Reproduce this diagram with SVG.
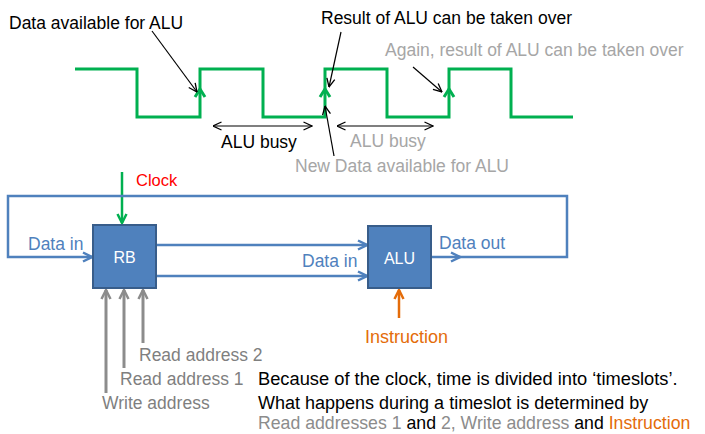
<svg xmlns="http://www.w3.org/2000/svg" width="705" height="434" viewBox="0 0 705 434">
<defs>
<style>
text{font-family:"Liberation Sans",Arial,sans-serif;font-size:17.5px}
.blk{fill:#000}
.lg{fill:#a6a6a6}
.dg{fill:#7f7f7f}
.blue{fill:#4f81bd}
.wht{fill:#fff;font-size:16px}
.box{fill:#4f81bd;stroke:#385d8a;stroke-width:2}
.wave{fill:none;stroke:#00b050;stroke-width:3}
.ann{fill:none;stroke:#000;stroke-width:1.2}
.bl{fill:none;stroke:#4f81bd;stroke-width:2.5}
.gr{fill:none;stroke:#8c8c8c;stroke-width:3}
</style>
<marker id="mk" viewBox="0 0 10 10" refX="9.5" refY="5" markerWidth="10" markerHeight="10" markerUnits="userSpaceOnUse" orient="auto-start-reverse"><path d="M1,1 L9.5,5 L1,9" fill="none" stroke="#000" stroke-width="1.3"/></marker>
<marker id="mb" viewBox="0 0 12 12" refX="11" refY="6" markerWidth="12" markerHeight="12" markerUnits="userSpaceOnUse" orient="auto"><path d="M2,1.5 L11,6 L2,10.5" fill="none" stroke="#4f81bd" stroke-width="2.5"/></marker>
<marker id="mg" viewBox="0 0 12 12" refX="11" refY="6" markerWidth="12" markerHeight="12" markerUnits="userSpaceOnUse" orient="auto"><path d="M2,1.5 L11,6 L2,10.5" fill="none" stroke="#00b050" stroke-width="2.5"/></marker>
<marker id="mgr" viewBox="0 0 12 12" refX="11" refY="6" markerWidth="12" markerHeight="12" markerUnits="userSpaceOnUse" orient="auto"><path d="M2,1.5 L11,6 L2,10.5" fill="none" stroke="#8c8c8c" stroke-width="2.5"/></marker>
<marker id="mo" viewBox="0 0 12 12" refX="11" refY="6" markerWidth="12" markerHeight="12" markerUnits="userSpaceOnUse" orient="auto"><path d="M2,1.5 L11,6 L2,10.5" fill="none" stroke="#e46c0a" stroke-width="2.5"/></marker>
</defs>

<g id="clock-wave">
<path class="wave" d="M75,69 H137 V117 H200 V69 H263 V117 H325 V69 H387 V117 H449 V69 H511 V117 H573"/>
<path class="wave" d="M195,97 L200,89 L205,97 M320,97 L325,89 L330,97 M444,97 L449,89 L454,97"/>
</g>

<g id="annotations">
<text class="blk" x="9" y="29">Data available for ALU</text>
<text class="blk" x="321" y="24">Result of ALU can be taken over</text>
<text class="lg" x="385" y="56">Again, result of ALU can be taken over</text>
<text class="blk" x="221" y="148">ALU busy</text>
<text class="lg" x="350" y="147">ALU busy</text>
<text class="lg" x="295" y="172">New Data available for ALU</text>
</g>

<g id="connectors">
<line class="ann" x1="152" y1="31" x2="197" y2="92" marker-end="url(#mk)"/>
<line class="ann" x1="341" y1="32" x2="329" y2="87" marker-end="url(#mk)"/>
<line class="ann" x1="413" y1="67" x2="442" y2="92" marker-end="url(#mk)"/>
<line class="ann" x1="334" y1="156" x2="325" y2="106" marker-end="url(#mk)"/>
<line class="ann" x1="213" y1="126" x2="312" y2="126" marker-start="url(#mk)" marker-end="url(#mk)"/>
<line class="ann" x1="337" y1="126" x2="433" y2="126" marker-start="url(#mk)" marker-end="url(#mk)"/>

<line x1="122" y1="172" x2="122" y2="223" fill="none" stroke="#00b050" stroke-width="2.5" marker-end="url(#mg)"/>
<path class="bl" d="M431,257 H460" marker-end="url(#mb)"/>
<path class="bl" d="M460,257 H567 V196 H8 V257 H92" marker-end="url(#mb)"/>
<line class="bl" x1="156" y1="245" x2="367" y2="245" marker-end="url(#mb)"/>
<line class="bl" x1="156" y1="276" x2="367" y2="276" marker-end="url(#mb)"/>
<line class="gr" x1="106" y1="393" x2="106" y2="290" marker-end="url(#mgr)"/>
<line class="gr" x1="124" y1="368" x2="124" y2="290" marker-end="url(#mgr)"/>
<line class="gr" x1="143" y1="343" x2="143" y2="290" marker-end="url(#mgr)"/>
<line x1="399" y1="318" x2="399" y2="290" fill="none" stroke="#e46c0a" stroke-width="2.5" marker-end="url(#mo)"/>
</g>

<g id="RB">
<rect class="box" x="93" y="225" width="63" height="63"/>
<text class="wht" x="124.5" y="263" text-anchor="middle">RB</text>
</g>

<g id="ALU">
<rect class="box" x="368" y="226" width="63" height="62"/>
<text class="wht" x="399.5" y="264" text-anchor="middle">ALU</text>
</g>

<g id="labels">
<text x="136" y="186" fill="#ff0000" style="font-size:16.5px">Clock</text>
<text class="blue" x="28" y="250">Data in</text>
<text class="blue" x="302" y="267">Data in</text>
<text class="blue" x="439" y="249">Data out</text>
<text x="365" y="343" fill="#e46c0a" style="font-size:18px">Instruction</text>
<text class="dg" x="139" y="361">Read address 2</text>
<text class="dg" x="120" y="385">Read address 1</text>
<text class="dg" x="102" y="409">Write address</text>
</g>

<g id="note">
<text x="258" y="385" style="font-size:18.3px">Because of the clock, time is divided into ‘timeslots’.</text>
<text x="258" y="409" style="font-size:18px">What happens during a timeslot is determined by</text>
<text x="258" y="429" style="font-size:17.7px"><tspan fill="#8c8c8c">Read addresses 1</tspan> and <tspan fill="#8c8c8c">2, Write address</tspan> and <tspan fill="#e46c0a">Instruction</tspan></text>
</g>
</svg>
